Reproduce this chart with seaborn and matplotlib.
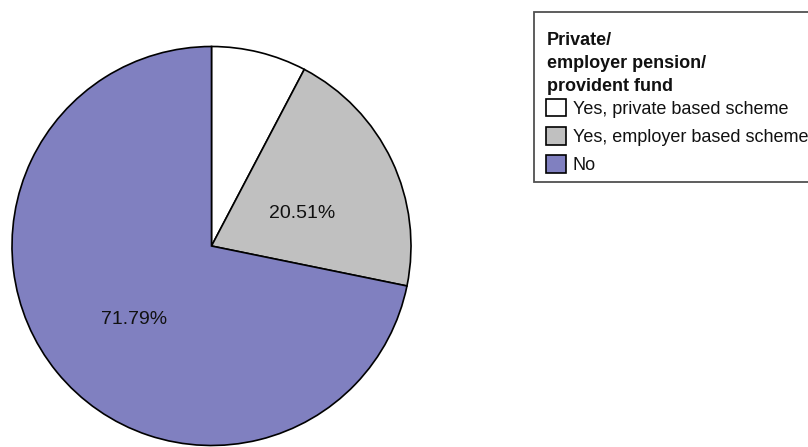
import matplotlib
matplotlib.use("Agg")
import matplotlib.pyplot as plt
from matplotlib.patches import Rectangle
import seaborn as sns

categories = ["Yes, private based scheme", "Yes, employer based scheme", "No"]
values = [7.70, 20.51, 71.79]
colors = ["#FFFFFF", "#C0C0C0", "#8080C0"]
legend_title = "Private/\nemployer pension/\nprovident fund"

sns.set_theme(style="white")
plt.rcParams["font.family"] = ["Liberation Sans", "DejaVu Sans"]

W, H = 808, 447
fig = plt.figure(figsize=(W / 100, H / 100), dpi=100)
fig.patch.set_facecolor("white")

def fx(px):
    return px / W

def fy(py):
    return 1 - py / H

cx, cy, r = 211.5, 246.0, 199.5
ax = fig.add_axes([(cx - r) / W, (H - cy - r) / H, 2 * r / W, 2 * r / H])

def fmt(p):
    return f"{p:.2f}%" if p > 10 else ""

wedges, texts, autotexts = ax.pie(
    values,
    colors=colors,
    startangle=90,
    counterclock=False,
    autopct=fmt,
    pctdistance=0.5,
    wedgeprops=dict(edgecolor="black", linewidth=1.2),
    textprops=dict(fontsize=14, color="#111111"),
)
for t in autotexts:
    x, y = t.get_position()
    t.set_position((x, y - 10 / r))
ax.set_xlim(-1, 1)
ax.set_ylim(-1, 1)
ax.set_aspect("auto")
ax.axis("off")

# legend frame
frame = Rectangle((fx(534), fy(182)), fx(830) - fx(534), fy(12) - fy(182),
                  transform=fig.transFigure, facecolor="white",
                  edgecolor="#505050", linewidth=1.3, zorder=0)
fig.add_artist(frame)

fig.text(fx(547), fy(32), legend_title, ha="left", va="top",
         fontsize=13, fontweight="bold", linespacing=1.48, color="#111111")

leg = fig.legend(
    wedges,
    categories,
    loc="upper left",
    bbox_to_anchor=(fx(546), fy(99)),
    frameon=False,
    fontsize=13,
    handlelength=1.1,
    handleheight=1.1,
    handletextpad=0.38,
    labelspacing=0.52,
    borderpad=0,
    borderaxespad=0,
)
for t in leg.get_texts():
    t.set_color("#111111")

fig.savefig("out.png", dpi=100, facecolor="white")
